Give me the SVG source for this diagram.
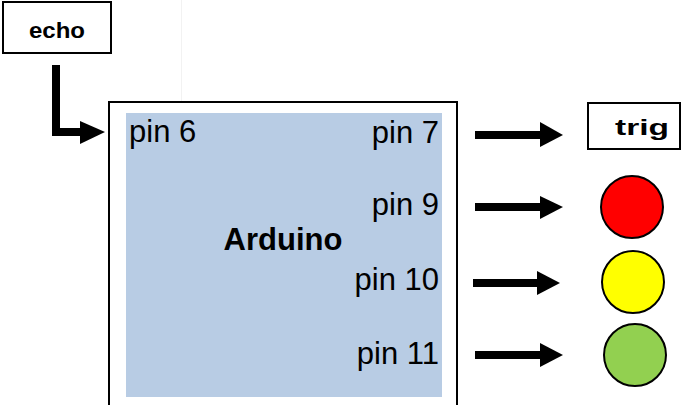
<svg xmlns="http://www.w3.org/2000/svg" width="683" height="405" viewBox="0 0 683 405">
<style>
.box{fill:#fff;stroke:#000;stroke-width:2}
.lbl{font-family:"Liberation Sans",Arial,sans-serif;font-weight:bold;font-size:22px;fill:#000}
.pin{font-family:"Liberation Sans",Arial,sans-serif;font-size:31px;fill:#000}
.conn{fill:none;stroke:#000;stroke-width:8}
.led{stroke:#000;stroke-width:2}
</style>
<rect width="683" height="405" fill="#fff"/>
<line x1="181.5" y1="0" x2="181.5" y2="101" stroke="#f2f2f2" stroke-width="1"/>
<g id="echo">
<rect class="box" x="3" y="2" width="108" height="51"/>
<text class="lbl" x="29" y="38" textLength="56" lengthAdjust="spacingAndGlyphs">echo</text>
</g>
<g id="arduino">
<rect class="box" x="109" y="102" width="348" height="310"/>
<rect x="126" y="113" width="316" height="284" fill="#b8cce4"/>
<text class="pin" x="129" y="142">pin 6</text>
<text class="pin" x="439" y="143" text-anchor="end">pin 7</text>
<text class="pin" x="439" y="215" text-anchor="end">pin 9</text>
<text class="pin" x="439" y="290" text-anchor="end">pin 10</text>
<text class="pin" x="439" y="364" text-anchor="end">pin 11</text>
<text class="pin" x="283" y="250" text-anchor="middle" font-weight="bold">Arduino</text>
</g>
<g id="trig">
<rect class="box" x="588" y="103" width="92" height="46"/>
<text class="lbl" x="615" y="135" textLength="54" lengthAdjust="spacingAndGlyphs">trig</text>
</g>
<g id="led-red"><circle class="led" cx="632" cy="207" r="31" fill="#ff0000"/></g>
<g id="led-yellow"><circle class="led" cx="633" cy="282" r="31" fill="#ffff00"/></g>
<g id="led-green"><circle class="led" cx="635" cy="355" r="31" fill="#92d050"/></g>
<g id="connectors">
<path class="conn" d="M56,65 V132 H80"/>
<path d="M80,121 L105,132 L80,144 Z" fill="#000"/>
<path class="conn" d="M475,135 H541"/>
<path d="M540,122 L563,135 L540,147 Z" fill="#000"/>
<path class="conn" d="M475,207 H541"/>
<path d="M540,196 L563,207 L540,219 Z" fill="#000"/>
<path class="conn" d="M473,283 H538"/>
<path d="M537,271 L560,283 L537,295 Z" fill="#000"/>
<path class="conn" d="M475,355 H541"/>
<path d="M540,343 L563,355 L540,367 Z" fill="#000"/>
</g>
</svg>
